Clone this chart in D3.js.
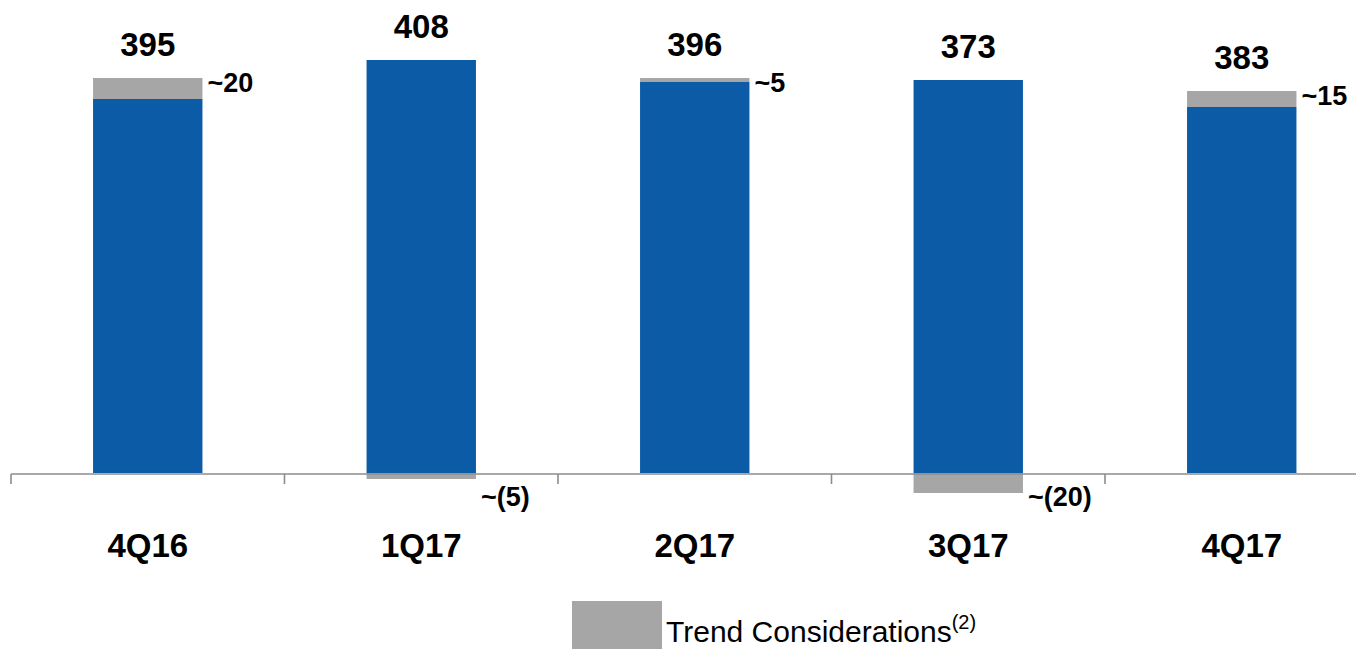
<!DOCTYPE html>
<html>
<head>
<meta charset="utf-8">
<script src="https://cdn.jsdelivr.net/npm/d3@7"></script>
<style>
  html, body { margin: 0; padding: 0; background: #fff; }
  svg { display: block; font-family: "Liberation Sans", Arial, sans-serif; }
</style>
</head>
<body>
<svg id="chart" width="1356" height="650"></svg>
<script>
// quarters, the underlying (blue) value and the trend adjustment (gray)
const quarters = ['4Q16', '1Q17', '2Q17', '3Q17', '4Q17'];
const baseValues = [374, 413, 391, 393, 366];
const trendValues = [21, -6, 4, -20, 16];
const totalLabels = ['395', '408', '396', '373', '383'];
const trendLabels = ['~20', '~(5)', '~5', '~(20)', '~15'];

const blue = '#0b5ba7';
const gray = '#a6a6a6';
const axisColor = '#8c8c8c';

const svg = d3.select('#chart');

const step = 273.5;
const x = d3.scaleBand()
  .domain(quarters)
  .range([11, 11 + step * quarters.length])
  .paddingInner(0.6)
  .paddingOuter(0.3);

// one pixel per unit, zero sits at y = 473
const y = d3.scaleLinear()
  .domain([0, 473])
  .range([473, 0]);

const data = quarters.map((q, i) => ({
  q,
  base: baseValues[i],
  trend: trendValues[i],
  total: totalLabels[i],
  trendLabel: trendLabels[i]
}));

const bars = svg.append('g');

bars.selectAll('rect.base')
  .data(data)
  .join('rect')
  .attr('class', 'base')
  .attr('x', d => x(d.q))
  .attr('width', x.bandwidth())
  .attr('y', d => y(d.base))
  .attr('height', d => y(0) - y(d.base))
  .attr('fill', blue);

bars.selectAll('rect.trend')
  .data(data)
  .join('rect')
  .attr('class', 'trend')
  .attr('x', d => x(d.q))
  .attr('width', x.bandwidth())
  .attr('y', d => d.trend > 0 ? y(d.base + d.trend) : y(0))
  .attr('height', d => Math.abs(y(0) - y(Math.abs(d.trend))))
  .attr('fill', gray);

// axis line with ticks between categories
const axis = svg.append('g').attr('stroke', axisColor).attr('stroke-width', 1.6);
const axisY = y(0) + 1;
axis.append('line')
  .attr('x1', x.range()[0]).attr('x2', x.range()[1])
  .attr('y1', axisY).attr('y2', axisY);

const tickXs = d3.range(quarters.length + 1).map(i => x.range()[0] + i * x.step());
axis.selectAll('line.tick')
  .data(tickXs)
  .join('line')
  .attr('class', 'tick')
  .attr('x1', d => d).attr('x2', d => d)
  .attr('y1', axisY).attr('y2', axisY + 10);

// totals above the bars
svg.append('g')
  .selectAll('text')
  .data(data)
  .join('text')
  .attr('x', d => x(d.q) + x.bandwidth() / 2)
  .attr('y', d => y(Math.max(d.base, d.base + d.trend)) - 22)
  .attr('text-anchor', 'middle')
  .attr('font-size', 33)
  .attr('font-weight', 'bold')
  .attr('fill', '#000')
  .text(d => d.total);

// trend labels next to the gray pieces
svg.append('g')
  .selectAll('text')
  .data(data)
  .join('text')
  .attr('x', d => x(d.q) + x.bandwidth() + 5)
  .attr('y', d => d.trend > 0 ? y(d.base + d.trend) + 14 : y(0) + 33)
  .attr('font-size', 27)
  .attr('font-weight', 'bold')
  .attr('fill', '#000')
  .text(d => d.trendLabel);

// category labels
svg.append('g')
  .selectAll('text')
  .data(quarters)
  .join('text')
  .attr('x', d => x(d) + x.bandwidth() / 2)
  .attr('y', 557)
  .attr('text-anchor', 'middle')
  .attr('font-size', 33)
  .attr('font-weight', 'bold')
  .attr('fill', '#000')
  .text(d => d);

// legend
const legend = svg.append('g');
legend.append('rect')
  .attr('x', 572).attr('y', 601)
  .attr('width', 90).attr('height', 48)
  .attr('fill', gray);
const lt = legend.append('text')
  .attr('x', 666).attr('y', 642)
  .attr('font-size', 30)
  .attr('fill', '#000');
lt.append('tspan').text('Trend Considerations');
lt.append('tspan').attr('font-size', 20).attr('dy', -13).text('(2)');
</script>
</body>
</html>
